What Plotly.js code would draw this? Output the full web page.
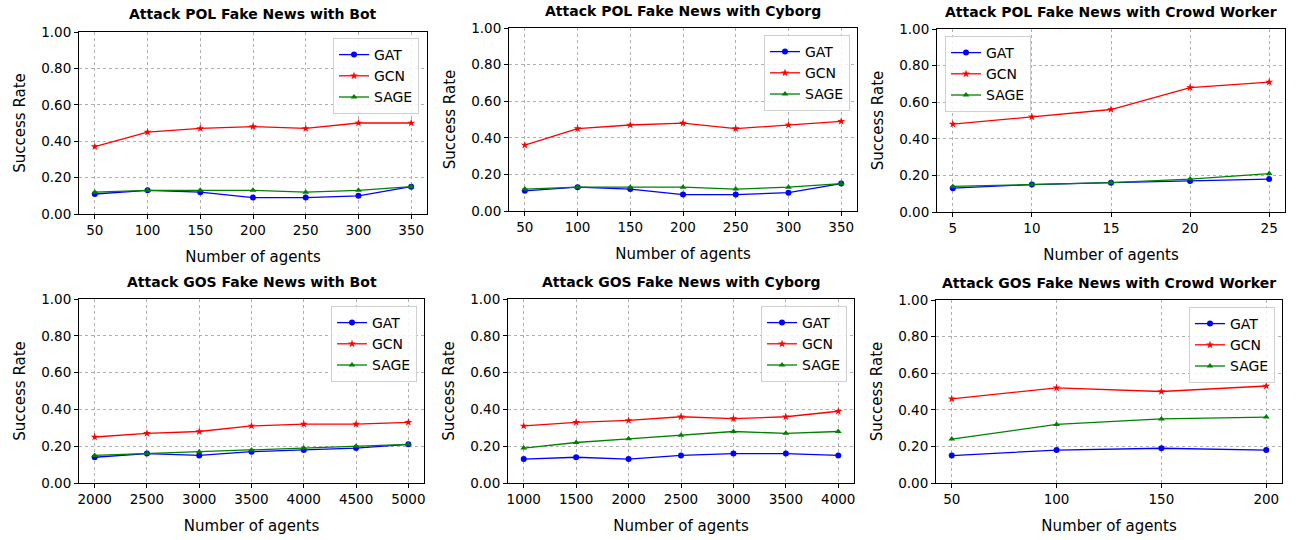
<!DOCTYPE html>
<html>
<head>
<meta charset="utf-8">
<script src="https://cdn.plot.ly/plotly-3.0.1.min.js"></script>
<style>html,body{margin:0;padding:0;background:#fff}#chart{width:1298px;height:540px}</style>
</head>
<body>
<div id="chart"></div>
<script>
// ---- Data ----
const titles = [
  "Attack POL Fake News with Bot",
  "Attack POL Fake News with Cyborg",
  "Attack POL Fake News with Crowd Worker",
  "Attack GOS Fake News with Bot",
  "Attack GOS Fake News with Cyborg",
  "Attack GOS Fake News with Crowd Worker"
];
const seriesNames = ["GAT", "GCN", "SAGE"];

const polBotX = [50, 100, 150, 200, 250, 300, 350];
const polBotGAT = [0.11, 0.13, 0.12, 0.09, 0.09, 0.10, 0.15];
const polBotGCN = [0.37, 0.45, 0.47, 0.48, 0.47, 0.50, 0.50];
const polBotSAGE = [0.12, 0.13, 0.13, 0.13, 0.12, 0.13, 0.15];

const polCyborgX = [50, 100, 150, 200, 250, 300, 350];
const polCyborgGAT = [0.11, 0.13, 0.12, 0.09, 0.09, 0.10, 0.15];
const polCyborgGCN = [0.36, 0.45, 0.47, 0.48, 0.45, 0.47, 0.49];
const polCyborgSAGE = [0.12, 0.13, 0.13, 0.13, 0.12, 0.13, 0.15];

const polCrowdX = [5, 10, 15, 20, 25];
const polCrowdGAT = [0.13, 0.15, 0.16, 0.17, 0.18];
const polCrowdGCN = [0.48, 0.52, 0.56, 0.68, 0.71];
const polCrowdSAGE = [0.14, 0.15, 0.16, 0.18, 0.21];

const gosBotX = [2000, 2500, 3000, 3500, 4000, 4500, 5000];
const gosBotGAT = [0.14, 0.16, 0.15, 0.17, 0.18, 0.19, 0.21];
const gosBotGCN = [0.25, 0.27, 0.28, 0.31, 0.32, 0.32, 0.33];
const gosBotSAGE = [0.15, 0.16, 0.17, 0.18, 0.19, 0.20, 0.21];

const gosCyborgX = [1000, 1500, 2000, 2500, 3000, 3500, 4000];
const gosCyborgGAT = [0.13, 0.14, 0.13, 0.15, 0.16, 0.16, 0.15];
const gosCyborgGCN = [0.31, 0.33, 0.34, 0.36, 0.35, 0.36, 0.39];
const gosCyborgSAGE = [0.19, 0.22, 0.24, 0.26, 0.28, 0.27, 0.28];

const gosCrowdX = [50, 100, 150, 200];
const gosCrowdGAT = [0.15, 0.18, 0.19, 0.18];
const gosCrowdGCN = [0.46, 0.52, 0.50, 0.53];
const gosCrowdSAGE = [0.24, 0.32, 0.35, 0.36];

const yTicks = [0, 0.2, 0.4, 0.6, 0.8, 1.0];
const yTickText = ["0.00", "0.20", "0.40", "0.60", "0.80", "1.00"];

// ---- Build ----
const panels = [
  {x: polBotX, ys: [polBotGAT, polBotGCN, polBotSAGE]},
  {x: polCyborgX, ys: [polCyborgGAT, polCyborgGCN, polCyborgSAGE]},
  {x: polCrowdX, ys: [polCrowdGAT, polCrowdGCN, polCrowdSAGE]},
  {x: gosBotX, ys: [gosBotGAT, gosBotGCN, gosBotSAGE]},
  {x: gosCyborgX, ys: [gosCyborgGAT, gosCyborgGCN, gosCyborgSAGE]},
  {x: gosCrowdX, ys: [gosCrowdGAT, gosCrowdGCN, gosCrowdSAGE]}
];

const W = 1298, H = 540;
// plot areas in pixels [left, right, top, bottom]
const boxes = [
  [79, 427, 32, 214],
  [509, 857, 28, 211],
  [937, 1285, 29, 212],
  [79, 424, 299, 483],
  [508, 854, 299, 483],
  [936, 1282, 300, 483]
];
const legendPos = [
  {x: 419, y: 38, xa: "right"},
  {x: 850, y: 35, xa: "right"},
  {x: 945, y: 36, xa: "left"},
  {x: 417, y: 306, xa: "right"},
  {x: 847, y: 306, xa: "right"},
  {x: 1275, y: 307, xa: "right"}
];

const colors = ["#0000ff", "#ff0000", "#008000"];
const symbols = ["circle", "star", "triangle-up"];
const msizes = [6, 6, 6];

const FONT = "DejaVu Sans, Liberation Sans, sans-serif";
const data = [];
const layout = {
  width: W, height: H,
  margin: {l: 0, r: 0, t: 0, b: 0},
  paper_bgcolor: "#fff", plot_bgcolor: "#fff",
  font: {family: FONT, color: "#000", size: 13},
  annotations: []
};

panels.forEach((p, i) => {
  const n = i + 1;
  const xa = n === 1 ? "x" : "x" + n;
  const ya = n === 1 ? "y" : "y" + n;
  const lg = n === 1 ? "legend" : "legend" + n;
  p.ys.forEach((ys, k) => {
    data.push({
      type: "scatter", mode: "lines+markers",
      x: p.x, y: ys, name: seriesNames[k],
      xaxis: xa, yaxis: ya, legend: lg,
      line: {color: colors[k], width: 1.3},
      marker: {color: colors[k], symbol: symbols[k], size: msizes[k]},
      hoverinfo: "x+y+name"
    });
  });
  const b = boxes[i];
  const xmin = Math.min(...p.x), xmax = Math.max(...p.x);
  const pad = (xmax - xmin) * 0.05;
  const axKey = n === 1 ? "xaxis" : "xaxis" + n;
  const ayKey = n === 1 ? "yaxis" : "yaxis" + n;
  layout[axKey] = {
    domain: [b[0] / W, b[1] / W],
    anchor: ya,
    range: [xmin - pad, xmax + pad],
    tickvals: p.x,
    ticktext: p.x.map(String),
    showgrid: true, gridcolor: "#b0b0b0", griddash: "dot", gridwidth: 0.8,
    zeroline: false,
    showline: true, linecolor: "#000", linewidth: 1, mirror: true,
    ticks: "outside", ticklen: 4, tickcolor: "#000",
    tickfont: {size: 13.5, family: FONT},
    title: {text: "Number of agents", font: {size: 15, family: FONT}, standoff: 14}
  };
  layout[ayKey] = {
    domain: [1 - b[3] / H, 1 - b[2] / H],
    anchor: xa,
    range: [0, 1],
    tickvals: yTicks, ticktext: yTickText,
    showgrid: true, gridcolor: "#b0b0b0", griddash: "dot", gridwidth: 0.8,
    zeroline: false,
    showline: true, linecolor: "#000", linewidth: 1, mirror: true,
    ticks: "outside", ticklen: 4, tickcolor: "#000",
    tickfont: {size: 13.5, family: FONT},
    title: {text: "Success Rate", font: {size: 15, family: FONT}, standoff: 11}
  };
  const L = legendPos[i];
  layout[lg] = {
    x: L.x / W, y: 1 - L.y / H,
    xanchor: L.xa, yanchor: "top",
    xref: "paper", yref: "paper",
    bgcolor: "rgba(255,255,255,0.85)",
    bordercolor: "#d0d0d0", borderwidth: 1,
    font: {size: 14, family: FONT},
    tracegroupgap: 0
  };
  const tyPix = [14, 11, 12, 282, 282, 283][i];
  layout.annotations.push({
    text: "<b>" + titles[i] + "</b>",
    x: (b[0] + b[1]) / 2 / W, y: 1 - tyPix / H,
    xref: "paper", yref: "paper",
    xanchor: "center", yanchor: "middle",
    showarrow: false,
    font: {size: 14, family: FONT, color: "#000"}
  });
});

Plotly.newPlot("chart", data, layout, {displayModeBar: false});
</script>
</body>
</html>
